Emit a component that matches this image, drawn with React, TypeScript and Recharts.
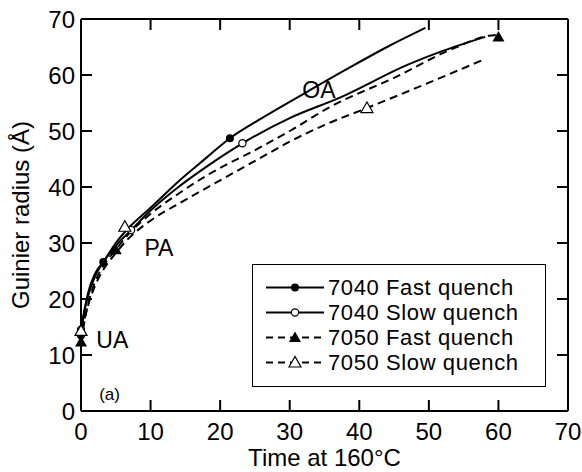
import {
  ComposedChart,
  Line,
  Scatter,
  XAxis,
  YAxis,
  Legend,
  ReferenceDot,
} from "recharts";

document.body.style.margin = "0";

const FONT = "'Liberation Sans', Arial, Helvetica, sans-serif";

// fitted curves (time, radius)
const fast7040T = [0, 0.5, 1, 2, 3.2, 5, 7, 10, 14, 18, 21.4, 26, 32.5, 38.7, 44, 49.5];
const fast7040R = [13.5, 18, 21, 24.5, 26.6, 30, 32.9, 36.3, 41, 45.2, 48.7, 52.3, 57, 61.4, 65, 68.4];
const slow7040T = [0, 0.5, 1, 2, 3, 5, 7.2, 10, 14, 18, 23.2, 30, 37.3, 46.9, 52, 58.1];
const slow7040R = [14.5, 18, 20.5, 24, 26.2, 29.5, 32.3, 35.8, 40, 43.6, 47.8, 52.3, 56, 61.8, 64.3, 66.8];
const fast7050T = [0, 0.5, 1, 2, 3, 5, 7, 10, 14, 18, 25.8, 30, 35.8, 45, 53.1, 58.6, 60];
const fast7050R = [12.3, 16, 19, 23, 25.5, 28.8, 31.8, 35.2, 38.8, 42, 47.1, 50, 54.3, 59.5, 64.5, 67, 67.2];
const slow7050T = [0, 0.5, 1, 2, 3, 5, 7, 10, 14, 18, 25.8, 30, 35.8, 41.1, 48, 57.8];
const slow7050R = [14.3, 16.5, 18.8, 22.3, 24.8, 28.2, 31, 34, 37, 39.8, 45.2, 48.1, 51.5, 54.1, 57.6, 62.7];

// measured points (markers)
const fast7040PtT = [0, 3.2, 21.4];
const fast7040PtR = [13.5, 26.6, 48.7];
const slow7040PtT = [0, 7.2, 23.2];
const slow7040PtR = [14.5, 32.3, 47.8];
const fast7050PtT = [0, 5, 60];
const fast7050PtR = [12.3, 28.8, 66.8];
const slow7050PtT = [0, 6.3, 41.1];
const slow7050PtR = [14.3, 32.9, 54.1];

const ticks = [0, 10, 20, 30, 40, 50, 60, 70];
const innerTicks = [10, 20, 30, 40, 50, 60];

const legendNames = ["7040 Fast quench", "7040 Slow quench", "7050 Fast quench", "7050 Slow quench"];

const zip = (t: number[], r: number[]) => t.map((x, i) => ({ x, y: r[i] }));

// chart box
const W = 582;
const H = 472;
const M = { top: 19, right: 14, bottom: 0, left: 0 };
const Y_AXIS_W = 81;
const X_AXIS_H = 61;
const PLOT_L = M.left + Y_AXIS_W;
const PLOT_T = M.top;
const PLOT_W = W - M.left - M.right - Y_AXIS_W;
const PLOT_H = H - M.top - M.bottom - X_AXIS_H;
const TICK = 11;

const Marker = ({ kind, cx, cy }: any) => {
  if (cx == null || cy == null) return null;
  if (kind === "dot") return <circle cx={cx} cy={cy} r={4} fill="#000" />;
  if (kind === "ring") return <circle cx={cx} cy={cy} r={3.6} fill="#fff" stroke="#000" strokeWidth={1.2} />;
  const pts = `${cx},${cy - 6} ${cx - 6},${cy + 4.5} ${cx + 6},${cy + 4.5}`;
  if (kind === "tri") return <polygon points={pts} fill="#000" />;
  return <polygon points={pts} fill="#fff" stroke="#000" strokeWidth={1.2} />;
};

const BottomTick = ({ x, y, payload }: any) => (
  <text x={x} y={y + 20} textAnchor="middle" dominantBaseline="central" fontSize={24} fontFamily={FONT} fill="#000">
    {payload.value}
  </text>
);
const LeftTick = ({ x, y, payload }: any) => (
  <text x={x - 6} y={y} textAnchor="end" dominantBaseline="central" fontSize={24} fontFamily={FONT} fill="#000">
    {payload.value}
  </text>
);

const YTitle = ({ viewBox }: any) => {
  const cy = viewBox.y + viewBox.height / 2;
  return (
    <text x={20} y={cy} transform={`rotate(-90 20 ${cy})`} textAnchor="middle" dominantBaseline="central"
      fontSize={24} fontFamily={FONT} fill="#000">
      Guinier radius (Å)
    </text>
  );
};

// closed frame with inward ticks on all four sides
const Frame = () => {
  const px = (t: number) => PLOT_L + (t / 70) * PLOT_W;
  const py = (v: number) => PLOT_T + PLOT_H - (v / 70) * PLOT_H;
  const R = PLOT_L + PLOT_W;
  const B = PLOT_T + PLOT_H;
  return (
    <svg width={W} height={H} style={{ position: "absolute", left: 0, top: 0, pointerEvents: "none" }}>
      <g stroke="#000" strokeWidth={2}>
        <line x1={PLOT_L} x2={R} y1={PLOT_T} y2={PLOT_T} />
        <line x1={R} x2={R} y1={PLOT_T} y2={B} />
        {innerTicks.map((t) => (
          <g key={t}>
            <line x1={px(t)} x2={px(t)} y1={B} y2={B - TICK} />
            <line x1={px(t)} x2={px(t)} y1={PLOT_T} y2={PLOT_T + TICK} />
            <line x1={PLOT_L} x2={PLOT_L + TICK} y1={py(t)} y2={py(t)} />
            <line x1={R} x2={R - TICK} y1={py(t)} y2={py(t)} />
          </g>
        ))}
      </g>
    </svg>
  );
};

const LegendBox = () => (
  <div style={{ border: "1px solid #000", background: "#fff", width: 294, height: 123, boxSizing: "border-box", paddingTop: 10 }}>
    {legendNames.map((name, i) => (
      <div key={name} style={{ display: "flex", alignItems: "center", height: 25 }}>
        <svg width={75} height={25} style={{ flex: "none" }}>
          <line x1={13} x2={71} y1={12.5} y2={12.5} stroke="#000" strokeWidth={2}
            strokeDasharray={i > 1 ? "7 5" : undefined} />
          <Marker kind={["dot", "ring", "tri", "otri"][i]} cx={42} cy={12.5} />
        </svg>
        <span style={{ fontFamily: FONT, fontSize: 22, color: "#000", letterSpacing: 0.6 }}>{name}</span>
      </div>
    ))}
  </div>
);

const curves = [
  { d: zip(fast7040T, fast7040R), dash: undefined },
  { d: zip(slow7040T, slow7040R), dash: undefined },
  { d: zip(fast7050T, fast7050R), dash: "8 5" },
  { d: zip(slow7050T, slow7050R), dash: "8 5" },
];
const points = [
  { d: zip(fast7040PtT, fast7040PtR), kind: "dot" },
  { d: zip(slow7040PtT, slow7040PtR), kind: "ring" },
  { d: zip(fast7050PtT, fast7050PtR), kind: "tri" },
  { d: zip(slow7050PtT, slow7050PtR), kind: "otri" },
];

const notes = [
  { x: 4.5, y: 12.7, text: "UA", size: 23 },
  { x: 11.2, y: 29.1, text: "PA", size: 23 },
  { x: 34.2, y: 57.3, text: "OA", size: 23 },
  { x: 4.1, y: 3.0, text: "(a)", size: 17 },
];

export default function App() {
  return (
    <div style={{ position: "relative", width: W, height: H, background: "#fff" }}>
      <ComposedChart width={W} height={H} margin={M}>
        <XAxis type="number" dataKey="x" domain={[0, 70]} ticks={ticks} height={X_AXIS_H}
          axisLine={{ stroke: "#000", strokeWidth: 2 }} tickLine={false} tickSize={0} tickMargin={0}
          tick={<BottomTick />} interval={0}
          label={{ value: "Time at 160°C", position: "insideBottom", offset: 6, fontSize: 24, fill: "#000", fontFamily: FONT }} />
        <YAxis type="number" dataKey="y" domain={[0, 70]} ticks={ticks} width={Y_AXIS_W}
          axisLine={{ stroke: "#000", strokeWidth: 2 }} tickLine={false} tickSize={0} tickMargin={0}
          tick={<LeftTick />} interval={0} label={<YTitle />} />
        {curves.map((c, i) => (
          <Line key={`c${i}`} data={c.d} dataKey="y" type="monotone" stroke="#000"
            strokeWidth={2} strokeDasharray={c.dash} dot={false} activeDot={false} isAnimationActive={false}
            legendType="none" />
        ))}
        {points.map((p, i) => (
          <Scatter key={`p${i}`} data={p.d} dataKey="y" isAnimationActive={false} legendType="none"
            shape={(props: any) => <Marker kind={p.kind} cx={props.cx} cy={props.cy} />} />
        ))}
        {notes.map((n) => (
          <ReferenceDot key={n.text} x={n.x} y={n.y} r={0} stroke="none" fill="none"
            label={{ value: n.text, position: "center", fontSize: n.size, fill: "#000", fontFamily: FONT }} />
        ))}
        <Legend content={<LegendBox />} layout="vertical" verticalAlign="middle" align="center"
          wrapperStyle={{ left: 252, top: 264, width: 294, height: 123 }} />
      </ComposedChart>
      <Frame />
    </div>
  );
}
